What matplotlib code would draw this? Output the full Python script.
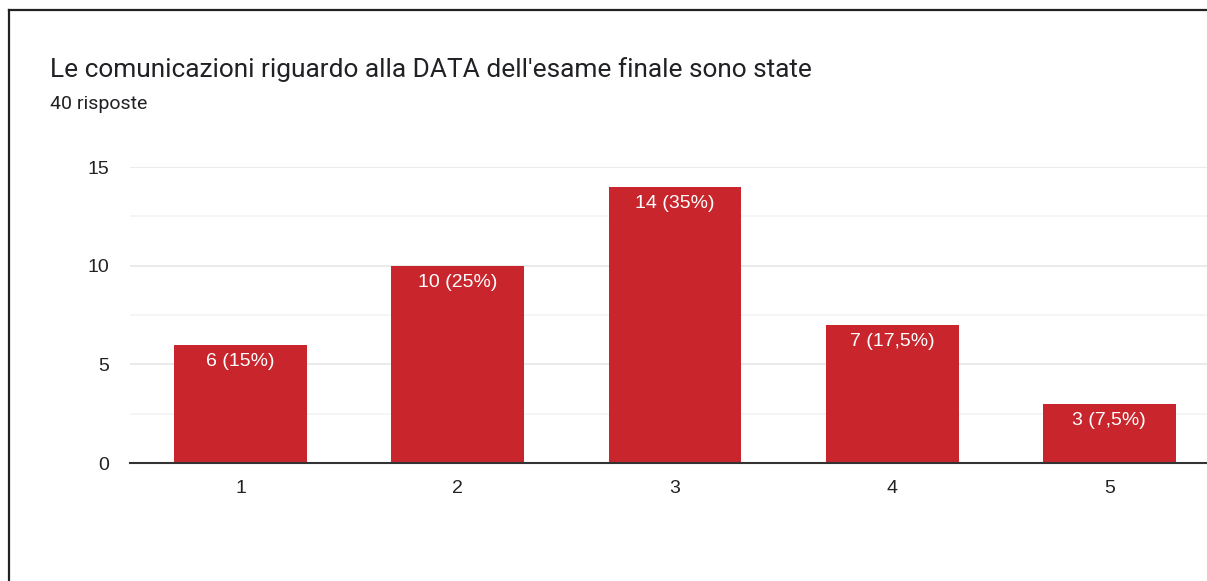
import matplotlib.pyplot as plt
from matplotlib.lines import Line2D

# data
categories = ["1", "2", "3", "4", "5"]
counts = [6, 10, 14, 7, 3]
labels = ["6 (15%)", "10 (25%)", "14 (35%)", "7 (17,5%)", "3 (7,5%)"]

title = "Le comunicazioni riguardo alla DATA dell'esame finale sono state"
subtitle = "40 risposte"

bar_color = "#c8262c"

fig = plt.figure(figsize=(12.07, 5.81), dpi=100)
ax = fig.add_axes([130 / 1207, 1 - 463 / 581, 1 - 130 / 1207, (463 - 167) / 581])

x = list(range(1, len(categories) + 1))
bars = ax.bar(x, counts, width=0.612, color=bar_color, zorder=3)

for b, lab in zip(bars, labels):
    ax.annotate(lab, (b.get_x() + b.get_width() / 2, b.get_height()),
                xytext=(0, -6), textcoords="offset points", ha="center", va="top",
                color="white", fontsize=14, family="Liberation Sans", zorder=4)

ax.set_xlim(0.49, 5.45)
ax.set_ylim(0, 15)
ax.set_xticks(x)
ax.set_xticklabels(categories)
ax.set_yticks([0, 5, 10, 15])
ax.set_yticks([2.5, 7.5, 12.5], minor=True)
ax.grid(axis="y", which="major", color="#e8e8e8", linewidth=1.2, zorder=0)
ax.grid(axis="y", which="minor", color="#f4f4f4", linewidth=1.2, zorder=0)
ax.tick_params(axis="both", which="both", length=0, labelsize=14, colors="#222222")
ax.tick_params(axis="x", pad=12)
ax.tick_params(axis="y", pad=15)
for t in ax.get_xticklabels() + ax.get_yticklabels():
    t.set_family("Liberation Sans")
for s in ["top", "right", "left"]:
    ax.spines[s].set_visible(False)
ax.spines["bottom"].set_color("#333333")
ax.spines["bottom"].set_linewidth(1.5)
ax.spines["bottom"].set_zorder(5)

fig.text(50 / 1207, 1 - 70 / 581, title, fontsize=18.9, family="Roboto",
         color="#202124", va="center", ha="left")
fig.text(50 / 1207, 1 - 104 / 581, subtitle, fontsize=14, family="Roboto",
         color="#202124", va="center", ha="left")

# frame lines (top and left)
fig.add_artist(Line2D([9 / 1207, 1], [1 - 10 / 581, 1 - 10 / 581], color="#222222", linewidth=1.6))
fig.add_artist(Line2D([9 / 1207, 9 / 1207], [0, 1 - 10 / 581], color="#222222", linewidth=1.6))

fig.savefig("out.png", dpi=100)
